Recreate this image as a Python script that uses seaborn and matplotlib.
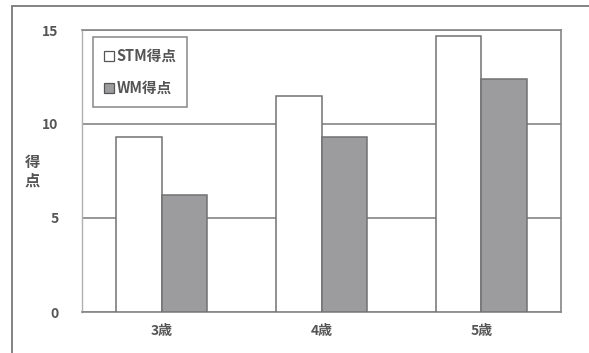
import matplotlib
matplotlib.use("Agg")
import matplotlib.pyplot as plt
from matplotlib.patches import Patch
from matplotlib.lines import Line2D
import seaborn as sns
import pandas as pd

# Scores by age group
ages = ["3歳", "4歳", "5歳"]
stm_scores = [9.3, 11.5, 14.7]
wm_scores = [6.2, 9.3, 12.4]
series_names = ["STM得点", "WM得点"]
y_ticks = [0, 5, 10, 15]

df = pd.DataFrame({
    "age": ages * 2,
    "score": stm_scores + wm_scores,
    "measure": [series_names[0]] * len(ages) + [series_names[1]] * len(ages),
})

sns.set_style("white")
plt.rcParams["font.family"] = ["Noto Sans CJK JP", "DejaVu Sans"]

text_color = "#555555"
grid_color = "#858585"
stm_fill, wm_fill = "#ffffff", "#9c9c9e"
edge_color = "#727272"

fig = plt.figure(figsize=(5.89, 3.53), dpi=100)
ax = fig.add_axes([82 / 589, 1 - 312 / 353, (561 - 82) / 589, (312 - 30) / 353])

sns.barplot(
    data=df, x="age", y="score", hue="measure",
    palette={series_names[0]: stm_fill, series_names[1]: wm_fill},
    width=0.572, gap=0, edgecolor=edge_color, linewidth=1.1,
    legend=False, ax=ax, zorder=3,
)

ax.set_xlim(-0.5, len(ages) - 0.5)
ax.set_ylim(0, 15)
ax.set_yticks(y_ticks)
ax.set_yticklabels([str(v) for v in y_ticks], fontsize=10, color=text_color, fontweight="bold")

# category labels on minor ticks, boundary tick marks on major ticks
ax.set_xticks([i - 0.5 for i in range(len(ages) + 1)])
ax.set_xticklabels([])
ax.set_xticks(range(len(ages)), minor=True)
ax.set_xticklabels(ages, minor=True, fontsize=10, color=text_color, fontweight="bold")
ax.tick_params(axis="x", which="minor", length=0, pad=9)
ax.tick_params(axis="x", which="major", length=6, width=1.0, color="#a8a8a8", direction="out")
ax.tick_params(axis="y", length=5, width=1.0, color="#a8a8a8", direction="out", pad=12)
ax.set_xlabel("")

ax.yaxis.grid(True, color=grid_color, linewidth=1.2)
ax.set_axisbelow(True)

for side in ["top", "right", "bottom"]:
    ax.spines[side].set_visible(True)
    ax.spines[side].set_color(grid_color)
    ax.spines[side].set_linewidth(1.2)
ax.spines["left"].set_color("#b0b0b0")
ax.spines["left"].set_linewidth(1.0)

ax.set_ylabel("得\n点", rotation=0, fontsize=11, color=text_color, linespacing=1.2,
              fontweight="bold", ha="center", va="center")
ax.yaxis.set_label_coords(-0.104, 0.5)

handles = [
    Patch(facecolor=stm_fill, edgecolor="#555555", linewidth=0.9),
    Patch(facecolor=wm_fill, edgecolor="#555555", linewidth=0.9),
]
leg = ax.legend(
    handles, series_names, loc="upper left", bbox_to_anchor=(0.023, 0.975),
    frameon=True, fancybox=False, edgecolor="#6a6a6a",
    prop={"size": 10.5, "weight": "bold"},
    handlelength=0.7, handleheight=0.7, handletextpad=0.15,
    labelspacing=1.1, borderpad=0.75, borderaxespad=0,
)
leg.get_frame().set_linewidth(1.1)
for t in leg.get_texts():
    t.set_color(text_color)

# outer chart frame
fig.add_artist(Line2D([12 / 589, 12 / 589], [0, 1 - 6 / 353], transform=fig.transFigure,
                      color="#7a7a7a", linewidth=1.3))
fig.add_artist(Line2D([12 / 589, 1], [1 - 6 / 353, 1 - 6 / 353], transform=fig.transFigure,
                      color="#7a7a7a", linewidth=1.3))

fig.savefig("out.png", dpi=100)
